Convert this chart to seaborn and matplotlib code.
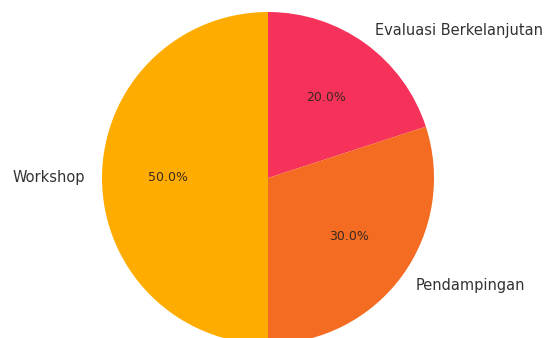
import matplotlib
matplotlib.use("Agg")
import matplotlib.pyplot as plt
import seaborn as sns

sns.set_theme(style="white")
plt.rcParams['font.family'] = ['DejaVu Sans']

categories = ["Evaluasi Berkelanjutan", "Pendampingan", "Workshop"]
values = [20, 30, 50]
colors = ["#F7325A", "#F46B22", "#FFAC00"]

fig = plt.figure(figsize=(5.47, 3.38), dpi=100)
W, H = 547, 338
cx, cy, r = 268, 178, 166
ax = fig.add_axes([(cx - r) / W, (H - cy - r) / H, 2 * r / W, 2 * r / H])
wedges, texts, autotexts = ax.pie(values, labels=categories, colors=colors,
                                  autopct="%1.1f%%", startangle=90, counterclock=False,
                                  wedgeprops={"linewidth": 0, "edgecolor": "none"},
                                  textprops={"fontsize": 10.5, "color": "#333333"})
for t in autotexts:
    t.set_fontsize(9)
    t.set_color("#3a2a20")
ax.set_xlim(-1, 1)
ax.set_ylim(-1, 1)
ax.set_aspect("equal")
ax.axis("off")
for w in wedges:
    w.set_clip_on(False)
for t in texts:
    t.set_clip_on(False)
fig.savefig("out.png", dpi=100)
